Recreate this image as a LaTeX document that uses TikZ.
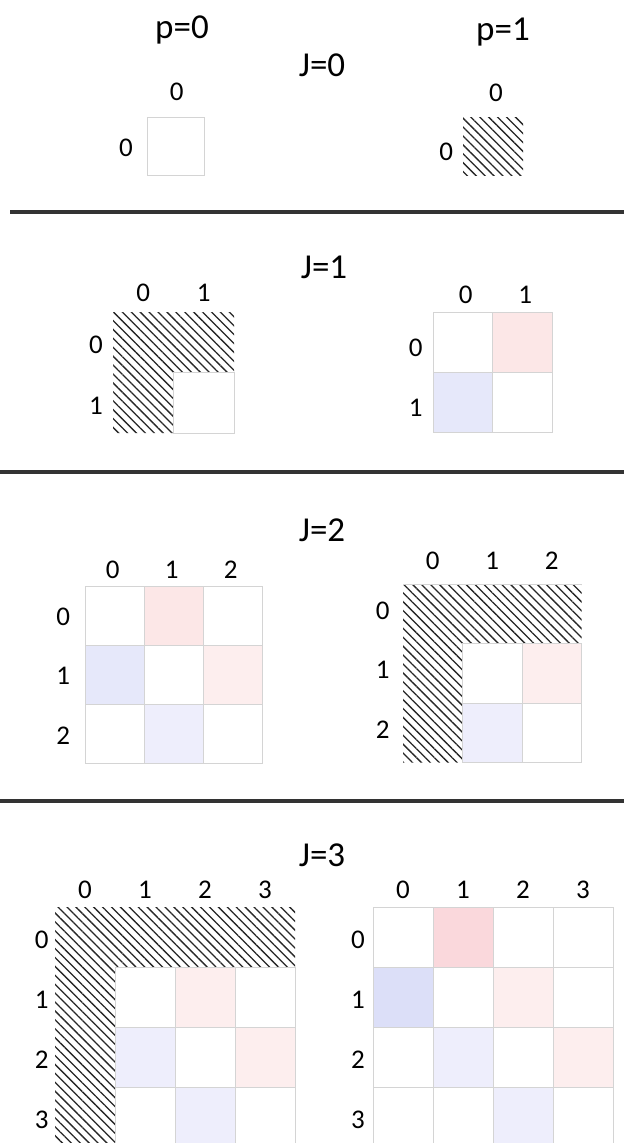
\documentclass[tikz,border=0pt]{standalone}
\usepackage{fontspec}
\setmainfont{Carlito}
\usetikzlibrary{patterns.meta}

\definecolor{pinkA}{RGB}{250,216,220}
\definecolor{pinkB}{RGB}{252,231,231}
\definecolor{pinkC}{RGB}{253,238,238}
\definecolor{lilacA}{RGB}{220,223,248}
\definecolor{lilacB}{RGB}{230,232,250}
\definecolor{lilacC}{RGB}{238,238,252}
\definecolor{gridgray}{RGB}{212,212,212}

\begin{document}
\begin{tikzpicture}[x=1pt, y=-1pt,
	title/.style={font=\fontsize{35}{40}\selectfont},
	idx/.style={font=\fontsize{27}{31}\selectfont},
	cell/.style={draw=gridgray, line width=0.9pt},
	hatch/.style={pattern={Lines[angle=-45,distance=6.3pt,line width=1.3pt]}, pattern color=black!85},
	sep/.style={line width=3.4pt, black!80}]
	\fill[white] (0,0) rectangle (624,1143);
	\useasboundingbox (0,0) rectangle (624,1143);
	% headings
	\node[title] (p0) at (182,30) {p=0};
	\node[title] (p1) at (503,32) {p=1};
	\node[title] (j0) at (322,65) {J=0};
	\node[title] (j1) at (324,267) {J=1};
	\node[title] (j2) at (322,530) {J=2};
	\node[title] (j3) at (322,855) {J=3};
	\draw[sep] (10,212) -- (624,212);
	\draw[sep] (0,472) -- (624,472);
	\draw[sep] (0,801) -- (624,801);

	% J=0
	\begin{scope}[shift={(147,117)}, x=57pt, y=-58pt]
		\draw[cell] (0,0) rectangle (1,1);
		\node[idx] (a-c0) at (0.52,-0.43) {0};
		\node[idx] (a-r0) at (-0.37,0.53) {0};
	\end{scope}
	\begin{scope}[shift={(463,117)}, x=60pt, y=-58pt]
		\fill[hatch] (0,0) rectangle (1,1);
		\node[idx] (b-c0) at (0.55,-0.41) {0};
		\node[idx] (b-r0) at (-0.28,0.6) {0};
	\end{scope}

	% J=1
	\begin{scope}[shift={(113,312)}, x=60.5pt, y=-60.5pt]
		\fill[hatch] (0,0) -- (2,0) -- (2,1) -- (1,1) -- (1,2) -- (0,2) -- cycle;
		\draw[cell] (1,1) rectangle (2,2);
		\foreach \i in {0,1} {
			\node[idx] (c-c\i) at (\i+0.5,-0.32) {\i};
			\node[idx] (c-r\i) at (-0.28,\i+0.55) {\i};
		}
	\end{scope}
	\begin{scope}[shift={(433,312)}, x=59.5pt, y=-60pt]
		\foreach \x/\y/\col in {1/0/pinkB, 0/1/lilacB}
			\fill[\col] (\x,\y) rectangle ++(1,1);
		\foreach \x in {0,1} \foreach \y in {0,1}
			\draw[cell] (\x,\y) rectangle ++(1,1);
		\foreach \i in {0,1} {
			\node[idx] (d-c\i) at (\i+0.55,-0.29) {\i};
			\node[idx] (d-r\i) at (-0.29,\i+0.6) {\i};
		}
	\end{scope}

	% J=2
	\begin{scope}[shift={(85,586)}, x=59pt, y=-59pt]
		\foreach \x/\y/\col in {1/0/pinkB, 0/1/lilacB, 2/1/pinkC, 1/2/lilacC}
			\fill[\col] (\x,\y) rectangle ++(1,1);
		\foreach \x in {0,...,2} \foreach \y in {0,...,2}
			\draw[cell] (\x,\y) rectangle ++(1,1);
		\foreach \i in {0,...,2} {
			\node[idx] (e-c\i) at (\i+0.47,-0.28) {\i};
			\node[idx] (e-r\i) at (-0.37,\i+0.53) {\i};
		}
	\end{scope}
	\begin{scope}[shift={(403,584)}, x=59.5pt, y=-59.5pt]
		\fill[hatch] (0,0) -- (3,0) -- (3,1) -- (1,1) -- (1,3) -- (0,3) -- cycle;
		\foreach \x/\y/\col in {2/1/pinkC, 1/2/lilacC}
			\fill[\col] (\x,\y) rectangle ++(1,1);
		\draw[cell] (0,0) -- (3,0);
		\foreach \x in {1,2} \foreach \y in {1,2}
			\draw[cell] (\x,\y) rectangle ++(1,1);
		\foreach \i in {0,...,2} {
			\node[idx] (f-c\i) at (\i+0.5,-0.39) {\i};
			\node[idx] (f-r\i) at (-0.34,\i+0.45) {\i};
		}
	\end{scope}

	% J=3
	\begin{scope}[shift={(55,907)}, x=60pt, y=-60pt]
		\fill[hatch] (0,0) -- (4,0) -- (4,1) -- (1,1) -- (1,4) -- (0,4) -- cycle;
		\foreach \x/\y/\col in {2/1/pinkC, 1/2/lilacC, 3/2/pinkC, 2/3/lilacC}
			\fill[\col] (\x,\y) rectangle ++(1,1);
		\foreach \x in {1,...,3} \foreach \y in {1,...,3}
			\draw[cell] (\x,\y) rectangle ++(1,1);
		\foreach \i in {0,...,3} {
			\node[idx] (g-c\i) at (\i+0.5,-0.29) {\i};
			\node[idx] (g-r\i) at (-0.22,\i+0.55) {\i};
		}
	\end{scope}
	\begin{scope}[shift={(373,907)}, x=60pt, y=-60pt]
		\foreach \x/\y/\col in {1/0/pinkA, 0/1/lilacA, 2/1/pinkC, 1/2/lilacC, 3/2/pinkC, 2/3/lilacC}
			\fill[\col] (\x,\y) rectangle ++(1,1);
		\foreach \x in {0,...,3} \foreach \y in {0,...,3}
			\draw[cell] (\x,\y) rectangle ++(1,1);
		\foreach \i in {0,...,3} {
			\node[idx] (h-c\i) at (\i+0.5,-0.29) {\i};
			\node[idx] (h-r\i) at (-0.25,\i+0.55) {\i};
		}
	\end{scope}
\end{tikzpicture}
\end{document}
